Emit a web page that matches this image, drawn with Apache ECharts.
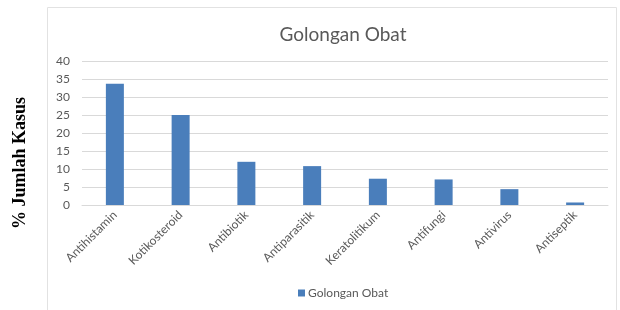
<!DOCTYPE html>
<html>
<head>
<meta charset="utf-8">
<script src="https://cdn.jsdelivr.net/npm/echarts@6/dist/echarts.min.js"></script>
<style>
  html, body { margin: 0; padding: 0; background: #fff; }
  #chart { width: 620px; height: 310px; }
</style>
</head>
<body>
<div id="chart"></div>
<script>
    // data
    var categories = ['Antihistamin', 'Kotikosteroid', 'Antibiotik', 'Antiparasitik',
                      'Keratolitikum', 'Antifungi', 'Antivirus', 'Antiseptik'];
    var percentValues = [33.7, 25, 12, 10.8, 7.3, 7.1, 4.4, 0.7];
    var seriesName = 'Golongan Obat';
    var yTitle = '% Jumlah Kasus';

    var textGray = '#595959',
        lineGray = '#d9d9d9',
        barBlue  = '#4a7ebb',
        uiFont   = 'Lato';

    var chart = echarts.init(document.getElementById('chart'), null, {renderer: 'canvas'});

    var chartOption = {
        animation: false,
        title: {
            text: seriesName,
            left: 338,
            top: 20,
            textAlign: 'center',
            textStyle: {
                color: textGray,
                fontFamily: uiFont,
                fontWeight: 'normal',
                fontSize: 19
            }
        },
        legend: {
            data: [seriesName],
            bottom: 6,
            left: 293,
            itemWidth: 7,
            itemHeight: 7,
            itemGap: 4,
            icon: 'rect',
            textStyle: {
                color: textGray,
                fontFamily: uiFont,
                fontSize: 12,
                padding: [0, 0, 0, -2]
            }
        },
        grid: {
            left: 82,
            right: 12,
            top: 61,
            bottom: 105
        },
        xAxis: [{
            type: 'category',
            data: categories,
            axisLine: {lineStyle: {color: lineGray}},
            axisTick: {show: false},
            axisLabel: {
                rotate: 45,
                interval: 0,
                margin: 8,
                color: textGray,
                fontFamily: uiFont,
                fontSize: 12
            }
        }],
        yAxis: [{
            type: 'value',
            min: 0,
            max: 40,
            interval: 5,
            axisLine: {show: false},
            axisTick: {show: false},
            splitLine: {lineStyle: {color: lineGray}},
            axisLabel: {
                margin: 12,
                color: textGray,
                fontFamily: uiFont,
                fontSize: 12
            }
        }],
        series: [{
            name: seriesName,
            type: 'bar',
            barWidth: 18,
            itemStyle: {color: barBlue},
            data: percentValues
        }],
        graphic: [
            {
                // chart area frame
                type: 'rect',
                shape: {x: 47.5, y: 7.5, width: 569, height: 320},
                style: {fill: 'none', stroke: '#e2e2e2', lineWidth: 1},
                silent: true
            },
            {
                type: 'text',
                x: 20,
                y: 163,
                rotation: Math.PI / 2,
                style: {
                    text: yTitle,
                    fill: '#000',
                    font: 'bold 18px "Liberation Serif"',
                    align: 'center',
                    verticalAlign: 'middle'
                }
            }
        ]
    };

    chart.setOption(chartOption);
</script>
</body>
</html>
